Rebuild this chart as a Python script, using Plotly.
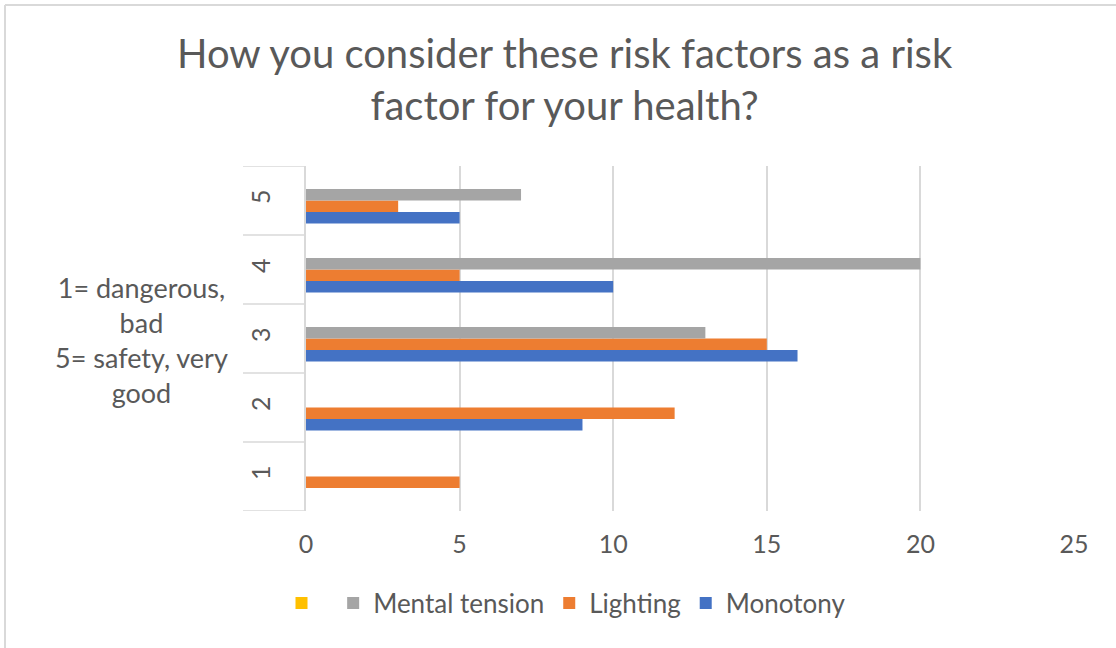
import plotly.graph_objects as go

# Survey answers: rating 1 (dangerous, bad) .. 5 (safety, very good)
categories = ["1", "2", "3", "4", "5"]
monotony = [0, 9, 16, 10, 5]
lighting = [5, 12, 15, 5, 3]
mental_tension = [0, 0, 13, 20, 7]
unnamed_series = [0, 0, 0, 0, 0]

x_ticks = [0, 5, 10, 15, 20, 25]

FONT = "Lato"
TEXT = "#595959"
GRID = "#d9d9d9"

W, H = 1116, 648
L, R, T, B = 306, 42, 166, 137
plot_w = W - L - R
plot_h = H - T - B


def px_x(p):
    return (p - L) / plot_w


def px_y(p):
    return (H - B - p) / plot_h


fig = go.Figure()
series = [
    ("Monotony", monotony, "#4472C4"),
    ("Lighting", lighting, "#ED7D31"),
    ("Mental tension", mental_tension, "#A5A5A5"),
    (" ", unnamed_series, "#FFC000"),
]
for name, vals, color in series:
    fig.add_trace(go.Bar(
        y=categories, x=vals, name=name, orientation="h",
        marker=dict(color=color, line=dict(width=0)),
    ))

# category separators drawn across the label column
shapes = []
for i in range(len(categories) + 1):
    shapes.append(dict(
        type="line", xref="paper", yref="y",
        x0=-63 / plot_w, x1=0, y0=i - 0.5, y1=i - 0.5,
        line=dict(color=GRID, width=1.5),
    ))
# chart frame (left and top edges)
shapes.append(dict(type="line", xref="paper", yref="paper",
                   x0=px_x(5), x1=px_x(5), y0=px_y(5), y1=px_y(H + 10),
                   line=dict(color=GRID, width=2)))
shapes.append(dict(type="line", xref="paper", yref="paper",
                   x0=px_x(5), x1=px_x(W + 10), y0=px_y(5), y1=px_y(5),
                   line=dict(color=GRID, width=2)))

fig.update_layout(
    width=W, height=H,
    margin=dict(l=L, r=R, t=T, b=B),
    paper_bgcolor="white", plot_bgcolor="white",
    barmode="group", bargap=0.333, bargroupgap=0,
    font=dict(family=FONT, color=TEXT),
    xaxis=dict(
        range=[0, 25], tickvals=x_ticks, showgrid=True, gridcolor=GRID,
        gridwidth=1.5, zeroline=False, showline=False, ticks="",
        tickfont=dict(size=25, color=TEXT), ticklabelstandoff=16,
    ),
    yaxis=dict(
        type="category", categoryorder="array", categoryarray=categories,
        range=[-0.5, len(categories) - 0.5],
        showgrid=False, zeroline=False, showline=True, linecolor=GRID,
        linewidth=1.5, ticks="", tickangle=-90,
        tickfont=dict(size=25, color=TEXT), ticklabelstandoff=24,
    ),
    legend=dict(
        orientation="h", traceorder="reversed",
        x=px_x(566), xanchor="center",
        y=px_y(603), yanchor="middle",
        font=dict(size=26, color=TEXT), itemwidth=30,
    ),
    shapes=shapes,
    annotations=[
        dict(
            text="How you consider these risk factors as a risk<br>factor for your health?",
            xref="paper", yref="paper", x=px_x(565), y=px_y(79),
            xanchor="center", yanchor="middle", showarrow=False,
            font=dict(family=FONT, size=40, color=TEXT), align="center",
        ),
        dict(
            text="1= dangerous,<br>bad<br>5= safety, very<br>good",
            xref="paper", yref="paper", x=px_x(141), y=px_y(340),
            xanchor="center", yanchor="middle", showarrow=False,
            font=dict(family=FONT, size=27, color=TEXT), align="center",
        ),
    ],
)

fig.write_html("out.html")
